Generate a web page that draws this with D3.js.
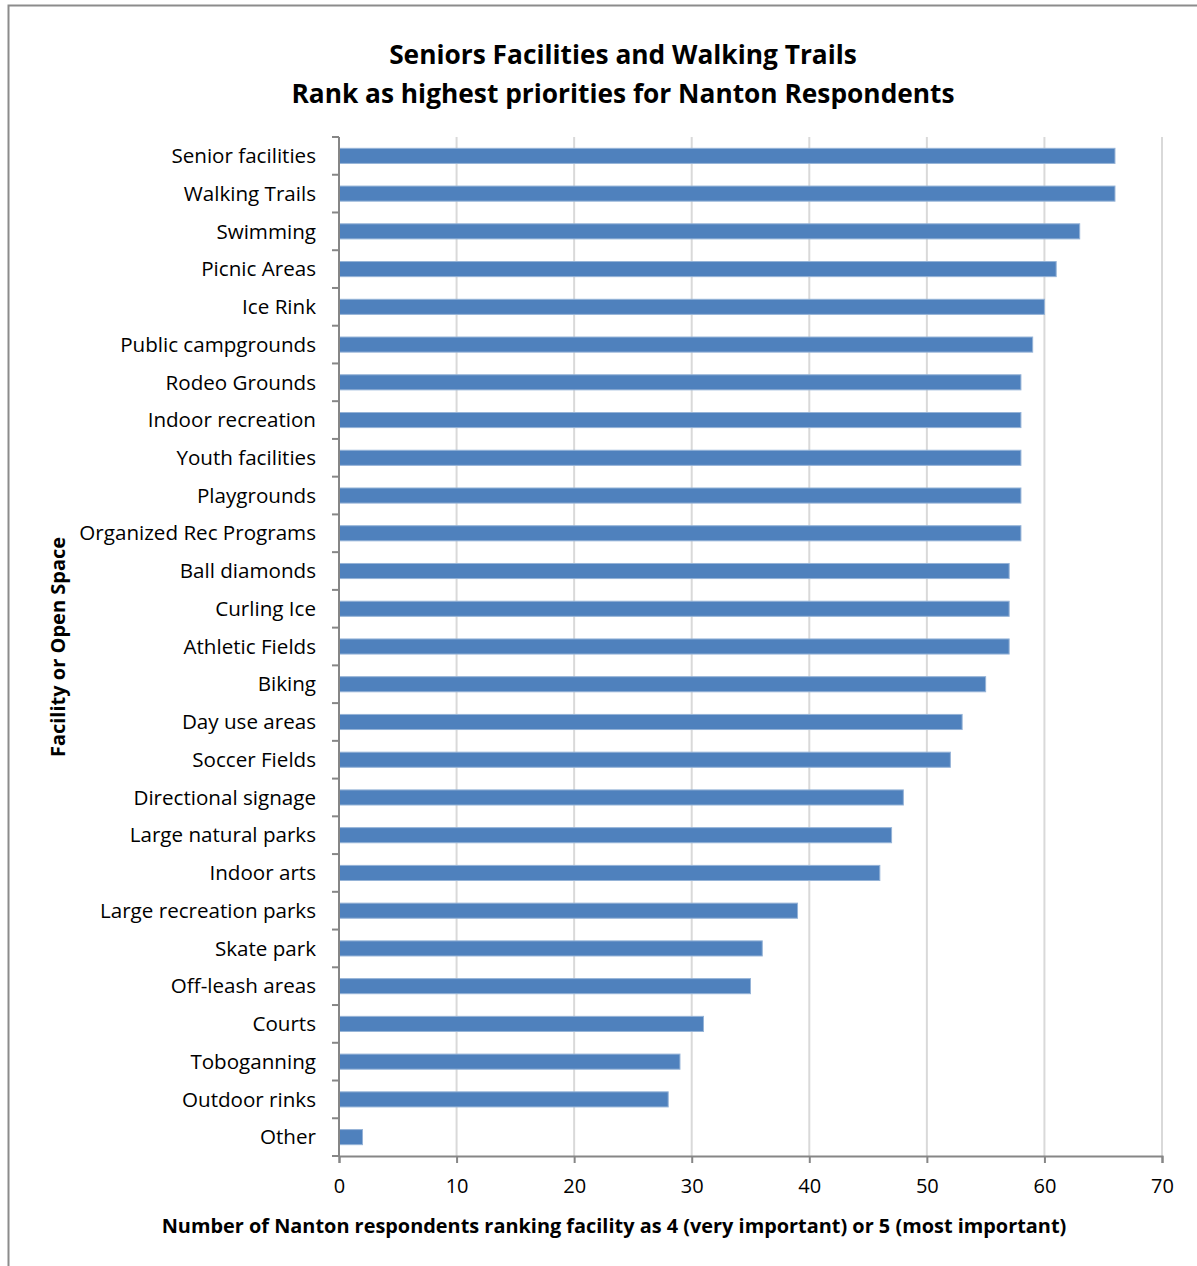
<!DOCTYPE html>
<html>
<head>
<meta charset="utf-8">
<script src="https://cdn.jsdelivr.net/npm/d3@7"></script>
<style>
  body { margin: 0; background: #fff; }
  text { font-family: "Open Sans", sans-serif; fill: #000; }
</style>
</head>
<body>
<div id="chart"></div>
<script>
// categories in the order they are shown, top to bottom
var facilities = ['Senior facilities', 'Walking Trails', 'Swimming', 'Picnic Areas', 'Ice Rink',
    'Public campgrounds', 'Rodeo Grounds', 'Indoor recreation', 'Youth facilities', 'Playgrounds',
    'Organized Rec Programs', 'Ball diamonds', 'Curling Ice', 'Athletic Fields', 'Biking',
    'Day use areas', 'Soccer Fields', 'Directional signage', 'Large natural parks', 'Indoor arts',
    'Large recreation parks', 'Skate park', 'Off-leash areas', 'Courts', 'Toboganning',
    'Outdoor rinks', 'Other']
var respondents = [66, 66, 63, 61, 60, 59, 58, 58, 58, 58, 58, 57, 57, 57, 55, 53, 52, 48, 47, 46,
    39, 36, 35, 31, 29, 28, 2]
var xTicks = [0, 10, 20, 30, 40, 50, 60, 70]

var titleLines = ['Seniors Facilities and Walking Trails', 'Rank as highest priorities for Nanton Respondents']
var xTitle = 'Number of Nanton respondents ranking facility as 4 (very important) or 5 (most important)'
var yTitle = 'Facility or Open Space'

var width = 1197, height = 1266
var margin = {top: 137, left: 339, right: 35, bottom: 110}

var svg = d3.select('#chart').append('svg')
    .attr('width', width)
    .attr('height', height)

// outer frame
svg.append('rect')
    .attr('x', 8.5).attr('y', 5.5)
    .attr('width', 1200).attr('height', 1300)
    .attr('fill', 'none')
    .attr('stroke', '#8c8c8c')
    .attr('stroke-width', 2)

var x = d3.scaleLinear()
    .domain([0, 70])
    .range([margin.left, width - margin.right])

var y = d3.scaleBand()
    .domain(facilities)
    .range([margin.top, height - margin.bottom])
    .paddingInner(0.6)
    .paddingOuter(0.3)

// gridlines
svg.append('g')
    .selectAll('line')
    .data(xTicks.slice(1))
    .enter()
    .append('line')
    .attr('x1', d => x(d)).attr('x2', d => x(d))
    .attr('y1', margin.top).attr('y2', height - margin.bottom)
    .attr('stroke', '#d9d9d9')
    .attr('stroke-width', 2)

// bars
svg.append('g')
    .selectAll('rect')
    .data(respondents)
    .enter()
    .append('rect')
    .attr('x', x(0))
    .attr('y', (d, i) => y(facilities[i]))
    .attr('width', d => x(d) - x(0))
    .attr('height', y.bandwidth())
    .attr('fill', '#4f81bd')
    .attr('stroke', '#95b3d7')
    .attr('stroke-width', 1)

// x axis
var xAxis = svg.append('g')
    .attr('transform', 'translate(0,' + (height - margin.bottom) + ')')
    .call(d3.axisBottom(x).tickValues(xTicks).tickSize(7).tickPadding(16))
xAxis.select('.domain').attr('stroke', '#868686').attr('stroke-width', 2)
xAxis.selectAll('.tick line').attr('stroke', '#868686').attr('stroke-width', 2)
xAxis.selectAll('.tick text')
    .attr('font-size', 20)
    .attr('font-family', '"Open Sans", sans-serif')
    .attr('fill', '#000')

// y axis: ticks sit on the band boundaries
var yAxis = svg.append('g')
    .attr('transform', 'translate(' + margin.left + ',0)')
yAxis.append('line')
    .attr('y1', margin.top).attr('y2', height - margin.bottom)
    .attr('stroke', '#868686').attr('stroke-width', 2)
var step = y.step()
var bounds = d3.range(facilities.length + 1).map(i => margin.top + i * step)
yAxis.selectAll('.ytick')
    .data(bounds)
    .enter()
    .append('line')
    .attr('x1', -7).attr('x2', 0)
    .attr('y1', d => d).attr('y2', d => d)
    .attr('stroke', '#868686').attr('stroke-width', 2)
yAxis.selectAll('.ylabel')
    .data(facilities)
    .enter()
    .append('text')
    .attr('x', -23)
    .attr('y', d => y(d) + y.bandwidth() / 2)
    .attr('dy', '0.35em')
    .attr('text-anchor', 'end')
    .attr('font-size', 20.6)
    .text(d => d)

// titles
svg.selectAll('.title')
    .data(titleLines)
    .enter()
    .append('text')
    .attr('x', 623)
    .attr('y', (d, i) => 64 + i * 39)
    .attr('text-anchor', 'middle')
    .attr('font-size', 26.3)
    .attr('font-weight', 'bold')
    .text(d => d)

svg.append('text')
    .attr('x', 614)
    .attr('y', 1233)
    .attr('text-anchor', 'middle')
    .attr('font-size', 19.9)
    .attr('font-weight', 'bold')
    .text(xTitle)

svg.append('text')
    .attr('transform', 'translate(65,647) rotate(-90)')
    .attr('text-anchor', 'middle')
    .attr('font-size', 20)
    .attr('font-weight', 'bold')
    .text(yTitle)
</script>
</body>
</html>
